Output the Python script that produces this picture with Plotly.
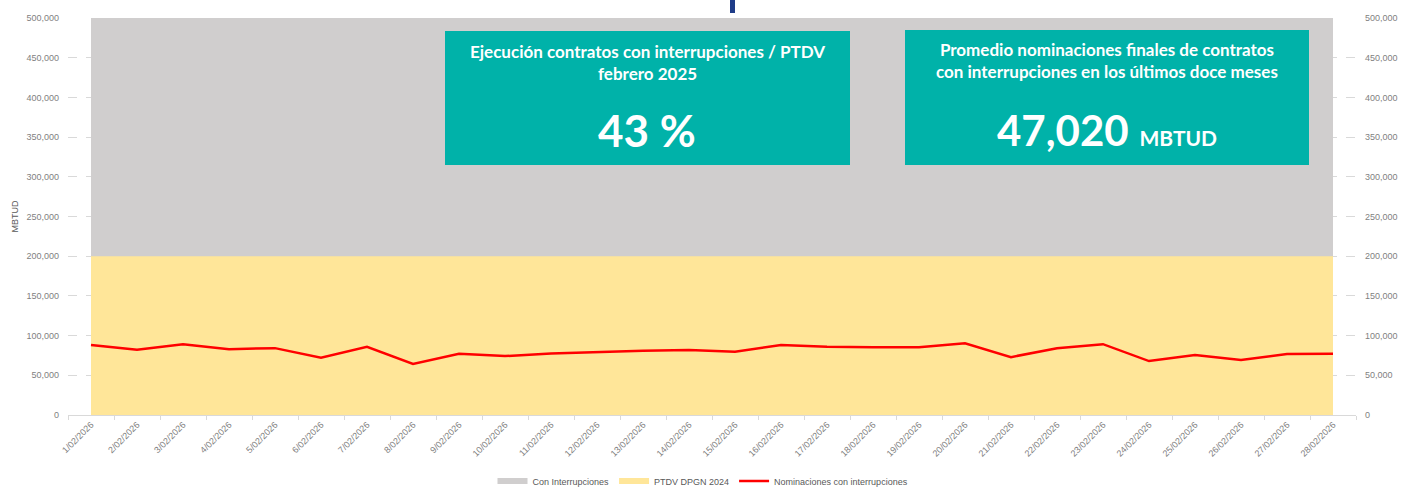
import plotly.graph_objects as go

days = [f"{d}/02/2026" for d in range(1, 29)]
con_interrupciones = [500000] * 28
ptdv_dpgn_2024 = [200000] * 28
nominaciones = [88300, 82100, 89200, 82900, 84200, 72100, 85800, 64200, 77100, 74200,
                 77500, 79600, 80800, 81800, 79600, 88300, 85800, 85400, 85400, 90400,
                 72900, 84200, 89200, 67900, 75400, 69200, 76700, 77100]
y_ticks = [0, 50000, 100000, 150000, 200000, 250000, 300000, 350000, 400000, 450000, 500000]

W, H = 1402, 487
L, R, T, B = 68, 46, 18, 72
pw, ph = W - L - R, H - T - B

def px(x):
    return (x - L) / pw

def py(y):
    return (H - B - y) / ph

fig = go.Figure()
fig.add_trace(go.Scatter(x=days, y=con_interrupciones, name="Con Interrupciones",
                         mode="none", fill="tozeroy", fillcolor="#D0CECE"))
fig.add_trace(go.Scatter(x=days, y=ptdv_dpgn_2024, name="PTDV DPGN 2024",
                         mode="none", fill="tozeroy", fillcolor="#FFE699"))
fig.add_trace(go.Scatter(x=days, y=nominaciones, name="Nominaciones con interrupciones",
                         mode="lines", line=dict(color="#FF0000", width=2.5)))
# invisible trace to activate right axis
fig.add_trace(go.Scatter(x=days, y=con_interrupciones, yaxis="y2", mode="none",
                         showlegend=False, hoverinfo="skip"))

tick_font = dict(family="Liberation Sans, Arial", size=9, color="#7F7F7F")
fig.update_layout(
    width=W, height=H,
    margin=dict(l=L, r=R, t=T, b=B, autoexpand=False),
    paper_bgcolor="white", plot_bgcolor="white",
    showlegend=True,
    legend=dict(orientation="h", x=px(703), xanchor="center", y=py(481), yanchor="middle",
                font=dict(family="Liberation Sans, Arial", size=9, color="#595959"),
                itemwidth=30, tracegroupgap=0),
    xaxis=dict(type="category", range=[-0.5, 27.5], tickson="boundaries",
               ticks="outside", ticklen=4, tickcolor="#D9D9D9",
               showline=True, linecolor="#D9D9D9", linewidth=1, automargin=False,
               showgrid=False, tickangle=-45, tickfont=tick_font, zeroline=False),
    yaxis=dict(range=[0, 500000], tickvals=y_ticks, tickformat=",d", automargin=False,
               showgrid=True, gridcolor="#D9D9D9", griddash="dash", gridwidth=1,
               zeroline=False, tickfont=tick_font, ticks="", ticklabelstandoff=8,
               title=dict(text="MBTUD", font=dict(family="Liberation Sans, Arial", size=9, color="#595959"),
                          standoff=6)),
    yaxis2=dict(range=[0, 500000], tickvals=y_ticks, tickformat=",d", overlaying="y",
                side="right", showgrid=False, zeroline=False, tickfont=tick_font,
                ticklabelstandoff=8, automargin=False),
    font=dict(family="Liberation Sans, Arial"),
)

teal = "#00B2A9"
boxes = [(445, 850, 31, 165), (905, 1309, 30, 165)]
for x0, x1, y0, y1 in boxes:
    fig.add_shape(type="rect", xref="paper", yref="paper",
                  x0=px(x0), x1=px(x1), y0=py(y1), y1=py(y0),
                  fillcolor=teal, line=dict(width=0), layer="above")

bold = "Lato, Open Sans, sans-serif"
fig.add_annotation(xref="paper", yref="paper", x=px(647), y=py(62), xanchor="center", yanchor="middle",
                   text="<b>Ejecución contratos con interrupciones / PTDV<br>febrero 2025</b>",
                   showarrow=False, font=dict(family=bold, size=17, color="white"))
fig.add_annotation(xref="paper", yref="paper", x=px(647), y=py(130), xanchor="center", yanchor="middle",
                   text="<b>43 %</b>", showarrow=False,
                   font=dict(family=bold, size=44, color="white"))
fig.add_annotation(xref="paper", yref="paper", x=px(1107), y=py(61), xanchor="center", yanchor="middle",
                   text="<b>Promedio nominaciones finales de contratos<br>con interrupciones en los últimos doce meses</b>",
                   showarrow=False, font=dict(family=bold, size=17, color="white"))
fig.add_annotation(xref="paper", yref="paper", x=px(1107), y=py(130), xanchor="center", yanchor="middle",
                   text="<b>47,020</b> <b><span style='font-size:21px'>MBTUD</span></b>",
                   showarrow=False, font=dict(family=bold, size=42, color="white"))

# clipped title descender at the top
fig.add_shape(type="rect", xref="paper", yref="paper",
              x0=px(730), x1=px(735), y0=py(13), y1=py(0),
              fillcolor="#1F3C88", line=dict(width=0))

fig.write_html("out.html", config={"displayModeBar": False},
               post_script="document.body.style.margin='0';document.body.style.overflow='hidden';")
